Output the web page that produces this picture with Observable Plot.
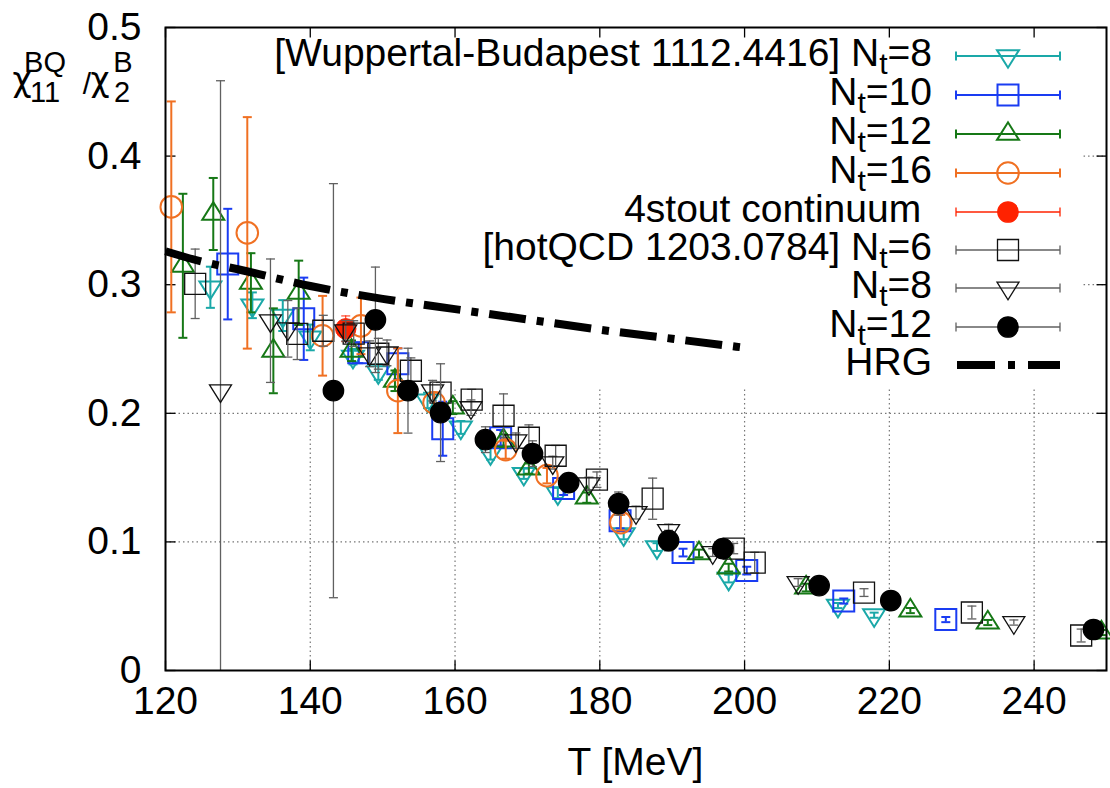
<!DOCTYPE html>
<html><head><meta charset="utf-8">
<script src="https://cdn.jsdelivr.net/npm/d3@7"></script>
<script src="https://cdn.jsdelivr.net/npm/@observablehq/plot@0.6"></script>
<style>
html,body{margin:0;padding:0;background:#fff;}
#chart svg{display:block;}
</style></head><body><div id="chart"></div>
<script>
// ---------- data ----------
const wbNt8_T   = [126.2,132.0,136.2,140.0,145.9,149.4,156.2,160.8,164.9,169.5,174.2,183.3,187.9,197.8,212.9,217.9];
const wbNt8_y   = [0.298,0.284,0.276,0.259,0.244,0.232,0.210,0.189,0.169,0.153,0.138,0.106,0.096,0.0715,0.0505,0.043];
const wbNt8_err = [0.016,0.010,0.012,0.010,0.006,0.006,0.006,0.005,0.005,0.004,0.004,0.004,0.003,0.003,0.002,0.002];

const wbNt10_T   = [128.6,139.1,146.7,152.1,158.3,166.3,175.0,182.8,191.5,200.3,213.7,227.8];
const wbNt10_y   = [0.316,0.2735,0.247,0.2385,0.188,0.181,0.1415,0.1165,0.0917,0.0777,0.054,0.0396];
const wbNt10_err = [0.043,0.032,0.008,0.012,0.021,0.006,0.005,0.006,0.003,0.003,0.002,0.002];

const wbNt12_T   = [122.4,126.6,131.8,134.9,138.4,145.7,151.7,159.7,166.7,170.2,178.2,193.7,197.8,208.5,222.9,233.6,249.3];
const wbNt12_y   = [0.3147,0.355,0.3015,0.2486,0.2937,0.2486,0.2253,0.2044,0.1787,0.157,0.1344,0.091,0.080,0.0645,0.0466,0.0373,0.0295];
const wbNt12_err = [0.056,0.028,0.023,0.033,0.025,0.008,0.008,0.005,0.005,0.004,0.004,0.003,0.003,0.003,0.002,0.002,0.002];

const wbNt16_T   = [120.8,131.3,141.7,147.0,152.1,157.1,167.0,172.7,182.9];
const wbNt16_y   = [0.3605,0.3403,0.2603,0.268,0.2176,0.2082,0.1717,0.1515,0.115];
const wbNt16_err = [0.082,0.090,0.031,0.022,0.033,0.008,0.007,0.006,0.006];

const cont_T   = [144.9];
const cont_y   = [0.2657];
const cont_err = [0.010];

const hqNt6_T   = [124.1,138.2,141.8,146.0,149.4,153.9,158.0,162.3,166.7,170.2,173.9,179.6,187.3,198.5,201.4,216.5,231.4,246.5];
const hqNt6_y   = [0.3007,0.2618,0.2642,0.262,0.2463,0.2331,0.216,0.2106,0.1981,0.181,0.167,0.1484,0.1336,0.0948,0.0839,0.0606,0.0451,0.0272];
const hqNt6_err = [0.027,0.020,0.012,0.010,0.012,0.010,0.008,0.008,0.017,0.010,0.008,0.006,0.016,0.004,0.008,0.003,0.005,0.005];

const hqNt8_T   = [127.6,134.5,136.9,144.9,148.2,150.6,156.9,162.2,168.4,173.5,178.5,185.0,189.5,195.6,207.4,237.2];
const hqNt8_y   = [0.2176,0.272,0.2657,0.2642,0.2463,0.247,0.2176,0.2044,0.1787,0.1616,0.1453,0.1228,0.1088,0.0917,0.0684,0.0373];
const hqNt8_err = [0.241,0.048,0.022,0.008,0.010,0.010,0.008,0.006,0.006,0.005,0.005,0.005,0.005,0.003,0.003,0.002];

const hqNt12_T   = [143.2,149.0,153.5,158.0,164.2,170.7,175.7,182.6,189.5,197.0,210.3,220.2,248.2];
const hqNt12_y   = [0.2176,0.2727,0.2176,0.2005,0.1795,0.1686,0.1461,0.1298,0.101,0.0948,0.066,0.0544,0.0319];
const hqNt12_err = [0.161,0.041,0.033,0.038,0.010,0.010,0.007,0.009,0.008,0.007,0.003,0.003,0.002];

const hrg_T = [120,125,130,140,150,160,170,180,190,200];
const hrg_y = [0.326,0.318,0.312,0.299,0.289,0.281,0.273,0.265,0.258,0.251];

const xTicks = [120,140,160,180,200,220,240];
const xTickLabels = ["120","140","160","180","200","220","240"];
const yTicks = [0,0.1,0.2,0.3,0.4,0.5];
const yTickLabels = ["0","0.1","0.2","0.3","0.4","0.5"];
const xLabel = "T [MeV]";
const legendLabels = [
  ["[Wuppertal-Budapest 1112.4416] N","t","=8"],
  ["N","t","=10"],
  ["N","t","=12"],
  ["N","t","=16"],
  ["4stout continuum "],
  ["[hotQCD 1203.0784] N","t","=6"],
  ["N","t","=8"],
  ["N","t","=12"],
  ["HRG"]
];

// ---------- styles ----------
const C = {cyan:"#1aa8a8", blue:"#1a3cf2", green:"#167816", orange:"#f07022", red:"#ff2200", gray:"#606060", black:"#111111"};

const sym = {
  triDown:{draw(c){const w=11,h=17.6;c.moveTo(-w,-h/3);c.lineTo(w,-h/3);c.lineTo(0,2*h/3);c.closePath();}},
  triUp:{draw(c){const w=11,h=17.6;c.moveTo(-w,h/3);c.lineTo(w,h/3);c.lineTo(0,-2*h/3);c.closePath();}},
  square:{draw(c){c.rect(-10.5,-10.5,21,21);}},
  circle:{draw(c){const r=10.8;c.moveTo(r,0);c.arc(0,0,r,0,2*Math.PI);}},
  disc:{draw(c){const r=10.2;c.moveTo(r,0);c.arc(0,0,r,0,2*Math.PI);}},
  cap:{draw(c){c.moveTo(-4.5,0);c.lineTo(4.5,0);}},
  tickUp:{draw(c){c.moveTo(0,0);c.lineTo(0,-10);}},
  tickDown:{draw(c){c.moveTo(0,0);c.lineTo(0,10);}},
  tickRight:{draw(c){c.moveTo(0,0);c.lineTo(10,0);}},
  tickLeft:{draw(c){c.moveTo(0,0);c.lineTo(-10,0);}}
};

const rows = (T,y,e) => T.map((t,i)=>({T:t, y:y[i], lo:y[i]-e[i], hi:y[i]+e[i]}));

const series = [
  {data:rows(wbNt8_T,wbNt8_y,wbNt8_err),   color:C.cyan,   bar:C.cyan,   s:sym.triDown, fill:"none", sw:2},
  {data:rows(wbNt10_T,wbNt10_y,wbNt10_err),color:C.blue,   bar:C.blue,   s:sym.square,  fill:"none", sw:2},
  {data:rows(wbNt12_T,wbNt12_y,wbNt12_err),color:C.green,  bar:C.green,  s:sym.triUp,   fill:"none", sw:2},
  {data:rows(wbNt16_T,wbNt16_y,wbNt16_err),color:C.orange, bar:C.orange, s:sym.circle,  fill:"none", sw:2},
  {data:rows(cont_T,cont_y,cont_err),      color:C.red,    bar:C.red,    s:sym.disc,    fill:C.red,  sw:1},
  {data:rows(hqNt6_T,hqNt6_y,hqNt6_err),   color:C.black,  bar:C.gray,   s:sym.square,  fill:"none", sw:1.3},
  {data:rows(hqNt8_T,hqNt8_y,hqNt8_err),   color:C.black,  bar:C.gray,   s:sym.triDown, fill:"none", sw:1.3},
  {data:rows(hqNt12_T,hqNt12_y,hqNt12_err),color:"#000",   bar:C.gray,   s:sym.disc,    fill:"#000", sw:1.3}
];

const FS = 39;
const gridStyle = {stroke:"#777", strokeWidth:1.2, strokeDasharray:"1.5,3"};
const marks = [
  Plot.ruleX(xTicks.slice(1), {x:d=>d, y1:0, y2:0.22, ...gridStyle}),
  Plot.ruleY([0.1,0.2], {y:d=>d, ...gridStyle}),
  Plot.ruleY([0.3,0.4], {y:d=>d, x1:246.9, x2:250, ...gridStyle}),
  Plot.dot(xTicks, {x:d=>d, y:0, symbol:sym.tickUp, stroke:"#000", strokeWidth:1.3, r:5}),
  Plot.dot(xTicks, {x:d=>d, y:0.5, symbol:sym.tickDown, stroke:"#000", strokeWidth:1.3, r:5}),
  Plot.dot(yTicks, {x:120, y:d=>d, symbol:sym.tickRight, stroke:"#000", strokeWidth:1.3, r:5}),
  Plot.dot(yTicks, {x:250, y:d=>d, symbol:sym.tickLeft, stroke:"#000", strokeWidth:1.3, r:5})
];
for (const s of series) {
  marks.push(Plot.ruleX(s.data, {x:"T", y1:"lo", y2:"hi", stroke:s.bar, strokeWidth:s.sw, clip:true}));
  marks.push(Plot.dot(s.data, {x:"T", y:"lo", symbol:sym.cap, stroke:s.bar, strokeWidth:s.sw, r:5, clip:true}));
  marks.push(Plot.dot(s.data, {x:"T", y:"hi", symbol:sym.cap, stroke:s.bar, strokeWidth:s.sw, r:5, clip:true}));
  marks.push(Plot.dot(s.data, {x:"T", y:"y", symbol:s.s, stroke:s.color, fill:s.fill, strokeWidth:s.sw, r:10}));
}
marks.push(Plot.line(hrg_T.map((t,i)=>({T:t,y:hrg_y[i]})), {x:"T", y:"y", stroke:"#000", strokeWidth:8, strokeDasharray:"37,11,7,11", strokeLinecap:"butt", curve:"monotone-x"}));
marks.push(Plot.frame({stroke:"#000", strokeWidth:2}));
marks.push(Plot.axisX(xTicks, {tickSize:0, tickPadding:16, tickFormat:d=>xTickLabels[xTicks.indexOf(d)], label:null}));
marks.push(Plot.axisY(yTicks, {tickSize:0, tickPadding:24, tickFormat:d=>yTickLabels[yTicks.indexOf(d)], label:null}));

const chart = Plot.plot({
  width:1110, height:788,
  marginLeft:165, marginRight:4, marginTop:27, marginBottom:118,
  x:{domain:[120,250]},
  y:{domain:[0,0.5]},
  style:{fontFamily:"'Liberation Sans', Arial, sans-serif", fontSize:FS+"px", background:"#fff", color:"#000"},
  marks
});
document.getElementById("chart").appendChild(chart);

// ---------- labels & legend (layout) ----------
const svg = d3.select(chart);
const font = "'Liberation Sans', Arial, sans-serif";
svg.append("text").attr("x", (165+1106)/2).attr("y", 775).attr("text-anchor","middle")
  .attr("font-family",font).attr("font-size",FS).attr("fill","#000").text(xLabel);

const yl = svg.append("g").attr("font-family",font).attr("fill","#000");
const greek = "'DejaVu Sans', sans-serif";
const ylParts = [
  {t:"χ", x:22, y:91, fs:33, f:greek},
  {t:"11", x:45, y:102, fs:29, f:font},
  {t:"BQ", x:45, y:72, fs:29, f:font},
  {t:"/", x:87, y:94, fs:30, f:font},
  {t:"χ", x:100, y:91, fs:33, f:greek},
  {t:"2", x:122, y:102, fs:29, f:font},
  {t:"B", x:123, y:72, fs:29, f:font}
];
for (const p of ylParts) yl.append("text").attr("x",p.x).attr("y",p.y).attr("font-size",p.fs).attr("font-family",p.f).text(p.t);

const legendY = [56,95,134,173,212,250,288,327,365];
const legendStyle = [
  {color:C.cyan, bar:C.cyan, s:sym.triDown, fill:"none", sw:2},
  {color:C.blue, bar:C.blue, s:sym.square, fill:"none", sw:2},
  {color:C.green, bar:C.green, s:sym.triUp, fill:"none", sw:2},
  {color:C.orange, bar:C.orange, s:sym.circle, fill:"none", sw:2},
  {color:C.red, bar:C.red, s:sym.disc, fill:C.red, sw:1.3},
  {color:C.black, bar:C.gray, s:sym.square, fill:"none", sw:1.3},
  {color:C.black, bar:C.gray, s:sym.triDown, fill:"none", sw:1.3},
  {color:"#000", bar:C.gray, s:sym.disc, fill:"#000", sw:1.3},
  {hrg:true}
];
const lg = svg.append("g").attr("font-family",font).attr("font-size",FS).attr("fill","#000");
const pathOf = s => { const p = d3.path(); s.draw(p, 100); return p.toString(); };
legendLabels.forEach((lab,i)=>{
  const y = legendY[i], st = legendStyle[i];
  const t = lg.append("text").attr("x",932).attr("y",y+9.5).attr("text-anchor","end").style("white-space","pre");
  t.append("tspan").text(lab[0]);
  if (lab.length>1) {
    t.append("tspan").attr("font-size",30).attr("dy",8).text(lab[1]);
    t.append("tspan").attr("dy",-8).text(lab[2]);
  }
  if (st.hrg) {
    lg.append("line").attr("x1",957).attr("x2",1060).attr("y1",y).attr("y2",y)
      .attr("stroke","#000").attr("stroke-width",8).attr("stroke-dasharray","38,13,7,13");
  } else {
    const g = lg.append("g").attr("stroke",st.bar).attr("stroke-width",st.sw).attr("fill","none");
    g.append("line").attr("x1",956).attr("x2",1060).attr("y1",y).attr("y2",y);
    g.append("line").attr("x1",956).attr("x2",956).attr("y1",y-4.5).attr("y2",y+4.5);
    g.append("line").attr("x1",1060).attr("x2",1060).attr("y1",y-4.5).attr("y2",y+4.5);
    lg.append("path").attr("transform",`translate(1008,${y})`).attr("d",pathOf(st.s))
      .attr("stroke",st.color).attr("stroke-width",st.sw).attr("fill",st.fill);
  }
});
</script></body></html>
